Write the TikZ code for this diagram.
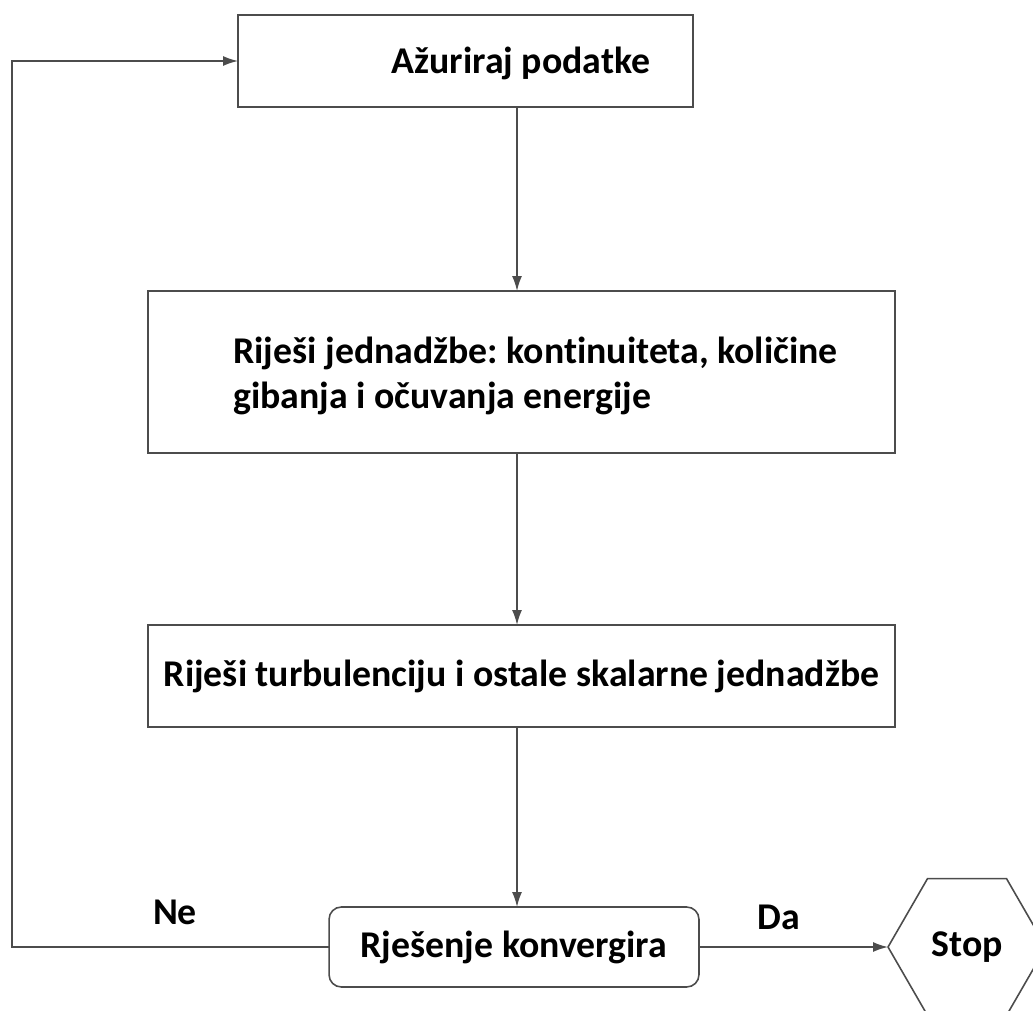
\documentclass[tikz,border=0pt]{standalone}
\usepackage{fontspec}
\setmainfont{Carlito}[Ligatures = CommonOff]
\frenchspacing
\usetikzlibrary{shapes.geometric, arrows.meta}
\tikzset{
  box/.style = {draw = black!70, line width = .9pt, inner sep = 0pt, outer sep = 0pt},
  txt/.style = {font = \bfseries\fontsize{21.5}{25.5}\selectfont, inner sep = 0pt},
  flow/.style = {-{Latex[length = 3mm, width = 2mm]}, draw = black!70,
    line width = .9pt}
}
\begin{document}
\begin{tikzpicture}[x = .02cm, y = -.02cm]
  \useasboundingbox (0,0) rectangle (1033,1010);
  \coordinate (axis) at (517,0);
  \coordinate (back) at (12,0);
  \node [box, minimum width = 9.1cm, minimum height = 1.84cm]
    (update) at (465.5,61) {};
  \node [txt] (updatetxt) at (521,63) {Ažuriraj podatke};
  \node [box, minimum width = 14.94cm, minimum height = 3.24cm]
    (solve) at (521.5,372) {};
  \node [txt, align = left, anchor = west] (solvetxt) at (233,376)
    {Riješi jednadžbe: kontinuiteta, količine\\gibanja i očuvanja energije};
  \node [box, txt, minimum width = 14.94cm, minimum height = 2.04cm]
    (turb) at (521.5,676) {Riješi turbulenciju i ostale skalarne jednadžbe};
  \node [box, txt, rounded corners = 7pt, minimum width = 7.4cm,
    minimum height = 1.6cm] (conv) at (514,947) {Rješenje konvergira};
  \node [box, txt, regular polygon, regular polygon sides = 6,
    minimum size = 3.16cm] (stop) at (967,947) {Stop};
  \draw [flow] (update.south -| axis) -- (solve.north -| axis);
  \draw [flow] (solve.south -| axis) -- (turb.north -| axis);
  \draw [flow] (turb.south -| axis) -- (conv.north -| axis);
  \draw [flow] (conv.east) -- (stop.west);
  \draw [flow] (conv.west) -- (conv.west -| back) |- (update.west);
  \node [txt] (no) at (175,912) {Ne};
  \node [txt] (yes) at (779,917) {Da};
\end{tikzpicture}
\end{document}
